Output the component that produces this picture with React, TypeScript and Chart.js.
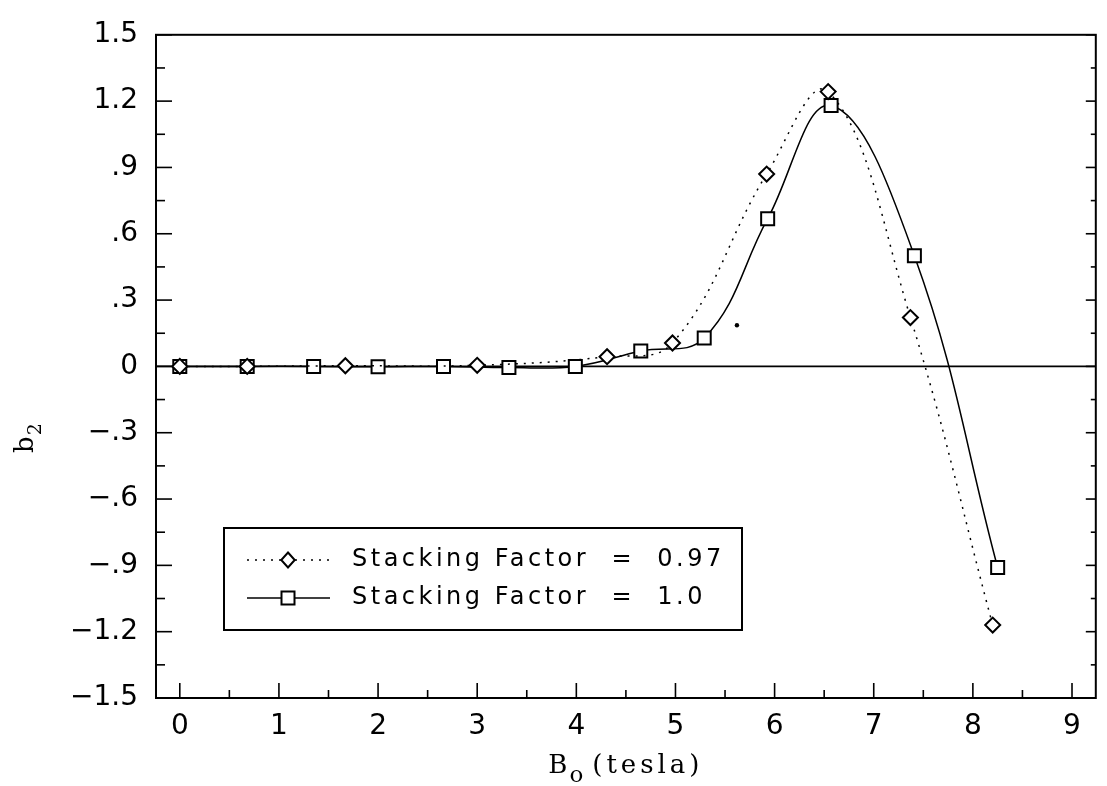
import React, { useEffect, useRef } from "react";
import { Chart, registerables } from "chart.js";

Chart.register(...registerables);

// ---- data ----
const sf097X = [0, 0.68, 1.67, 3.0, 4.31, 4.97, 5.92, 6.54, 7.37, 8.2];
const sf097Y = [0, 0, 0.003, 0.005, 0.044, 0.106, 0.87, 1.243, 0.221, -1.17];

const sf100X = [0, 0.68, 1.35, 2.0, 2.66, 3.32, 3.99, 4.65, 5.29, 5.93, 6.57, 7.41, 8.25];
const sf100Y = [0, 0, 0, -0.002, 0, -0.005, 0, 0.07, 0.128, 0.668, 1.18, 0.5, -0.91];

const speckX = [5.62];
const speckY = [0.186];

const xTickValues = [0, 1, 2, 3, 4, 5, 6, 7, 8, 9];
const xTickLabels = ["0", "1", "2", "3", "4", "5", "6", "7", "8", "9"];
const xMinorValues = [0.5, 1.5, 2.5, 3.5, 4.5, 5.5, 6.5, 7.5, 8.5];

const yTickValues = [1.5, 1.2, 0.9, 0.6, 0.3, 0, -0.3, -0.6, -0.9, -1.2, -1.5];
const yTickLabels = ["1.5", "1.2", ".9", ".6", ".3", "0", "\u2212.3", "\u2212.6", "\u2212.9", "\u22121.2", "\u22121.5"];
const yMinorValues = [1.35, 1.05, 0.75, 0.45, 0.15, -0.15, -0.45, -0.75, -1.05, -1.35];

const legendLabels = ["Stacking Factor  =  0.97", "Stacking Factor  =  1.0"];
const xTitleParts = ["B", "o", "(tesla)"];
const yTitleParts = ["b", "2"];

const X_MIN = -0.24;
const X_MAX = 9.24;
const Y_MIN = -1.5;
const Y_MAX = 1.5;

function line(ctx: CanvasRenderingContext2D, x1: number, y1: number, x2: number, y2: number) {
  ctx.beginPath();
  ctx.moveTo(x1, y1);
  ctx.lineTo(x2, y2);
  ctx.stroke();
}

function drawDiamond(ctx: CanvasRenderingContext2D, cx: number, cy: number, r: number) {
  ctx.beginPath();
  ctx.moveTo(cx, cy - r);
  ctx.lineTo(cx + r * 0.9, cy);
  ctx.lineTo(cx, cy + r);
  ctx.lineTo(cx - r * 0.9, cy);
  ctx.closePath();
  ctx.fillStyle = "#fff";
  ctx.fill();
  ctx.stroke();
}

function drawSquare(ctx: CanvasRenderingContext2D, cx: number, cy: number, s: number) {
  ctx.beginPath();
  ctx.rect(cx - s / 2, cy - s / 2, s, s);
  ctx.fillStyle = "#fff";
  ctx.fill();
  ctx.stroke();
}

const framePlugin = {
  id: "framePlugin",
  beforeDatasetsDraw(chart: any) {
    const { ctx, chartArea: a, scales } = chart;
    const x = scales.x;
    const y = scales.y;
    ctx.save();
    ctx.strokeStyle = "#000";
    ctx.lineWidth = 1.6;
    const y0 = y.getPixelForValue(0);
    line(ctx, a.left, y0, a.right, y0);
    xTickValues.forEach((v) => {
      const px = x.getPixelForValue(v);
      line(ctx, px, a.bottom, px, a.bottom - 15);
    });
    xMinorValues.forEach((v) => {
      const px = x.getPixelForValue(v);
      line(ctx, px, a.bottom, px, a.bottom - 8);
    });
    yTickValues.forEach((v) => {
      const py = y.getPixelForValue(v);
      line(ctx, a.left, py, a.left + 16, py);
      line(ctx, a.right, py, a.right - 10, py);
    });
    yMinorValues.forEach((v) => {
      const py = y.getPixelForValue(v);
      line(ctx, a.left, py, a.left + 9, py);
      line(ctx, a.right, py, a.right - 5, py);
    });
    ctx.lineWidth = 2;
    ctx.strokeRect(a.left, a.top, a.right - a.left, a.bottom - a.top);
    ctx.restore();
  },
  afterDraw(chart: any) {
    const { ctx, chartArea: a } = chart;
    ctx.save();
    ctx.fillStyle = "#000";
    ctx.strokeStyle = "#000";

    // ---- legend ----
    const bx = 224, by = 528, bw = 518, bh = 102;
    ctx.fillStyle = "#fff";
    ctx.fillRect(bx, by, bw, bh);
    ctx.lineWidth = 2;
    ctx.strokeRect(bx, by, bw, bh);
    const rows = [560, 598];
    const ds = chart.data.datasets;
    for (let i = 0; i < 2; i++) {
      const ry = rows[i];
      ctx.save();
      ctx.lineWidth = ds[i].borderWidth;
      ctx.setLineDash(ds[i].borderDash || []);
      ctx.strokeStyle = "#000";
      line(ctx, 247, ry, 330, ry);
      ctx.restore();
      ctx.lineWidth = 2;
      ctx.strokeStyle = "#000";
      if (i === 0) drawDiamond(ctx, 288, ry, 7.5);
      else drawSquare(ctx, 288, ry, 13);
      ctx.fillStyle = "#000";
      ctx.font = '24px "DejaVu Sans"';
      (ctx as any).letterSpacing = "3.5px";
      ctx.textAlign = "left";
      ctx.textBaseline = "middle";
      ctx.fillText(legendLabels[i], 352, ry);
      (ctx as any).letterSpacing = "0px";
    }

    // ---- x title ----
    ctx.textBaseline = "alphabetic";
    ctx.textAlign = "left";
    ctx.fillStyle = "#000";
    const bigFont = '26px "DejaVu Serif"';
    const subFont = '23px "DejaVu Serif"';
    ctx.font = bigFont;
    const wB = ctx.measureText(xTitleParts[0]).width;
    (ctx as any).letterSpacing = "4px";
    const wT = ctx.measureText(xTitleParts[2]).width;
    (ctx as any).letterSpacing = "0px";
    ctx.font = subFont;
    const wO = ctx.measureText(xTitleParts[1]).width;
    const gap = 9;
    const total = wB + 2 + wO + gap + wT;
    let sx = (a.left + a.right) / 2 - total / 2;
    ctx.font = bigFont;
    ctx.fillText(xTitleParts[0], sx, 773);
    sx += wB + 2;
    ctx.font = subFont;
    ctx.fillText(xTitleParts[1], sx, 782);
    sx += wO + gap;
    ctx.font = bigFont;
    (ctx as any).letterSpacing = "4px";
    ctx.fillText(xTitleParts[2], sx, 773);
    (ctx as any).letterSpacing = "0px";

    // ---- y title ----
    ctx.save();
    ctx.translate(33, 453);
    ctx.rotate(-Math.PI / 2);
    ctx.font = '26px "DejaVu Serif"';
    ctx.fillText(yTitleParts[0], 0, 0);
    const wb = ctx.measureText(yTitleParts[0]).width;
    ctx.font = '19px "DejaVu Serif"';
    ctx.fillText(yTitleParts[1], wb + 1, 8);
    ctx.restore();

    ctx.restore();
  },
};

export default function App() {
  const ref = useRef<HTMLCanvasElement | null>(null);

  useEffect(() => {
    document.body.style.margin = "0";
    const canvas = ref.current;
    if (!canvas) return;
    const chart = new Chart(canvas, {
      type: "scatter",
      data: {
        datasets: [
          {
            label: legendLabels[0],
            data: sf097X.map((x, i) => ({ x, y: sf097Y[i] })),
            showLine: true,
            borderColor: "#000",
            borderWidth: 1.5,
            borderDash: [2, 6],
            tension: 0.4,
            pointStyle: "rectRot",
            pointRadius: 7.5,
            pointBorderWidth: 2,
            pointBackgroundColor: "#fff",
            pointBorderColor: "#000",
          } as any,
          {
            label: legendLabels[1],
            data: sf100X.map((x, i) => ({ x, y: sf100Y[i] })),
            showLine: true,
            borderColor: "#000",
            borderWidth: 1.5,
            tension: 0.4,
            pointStyle: "rect",
            pointRadius: 9.2,
            pointBorderWidth: 2,
            pointBackgroundColor: "#fff",
            pointBorderColor: "#000",
          } as any,
          {
            label: "speck",
            data: speckX.map((x, i) => ({ x, y: speckY[i] })),
            showLine: false,
            pointRadius: 2.2,
            pointBorderWidth: 0,
            pointBackgroundColor: "#000",
            pointBorderColor: "#000",
          } as any,
        ],
      },
      options: {
        responsive: false,
        animation: false,
        devicePixelRatio: 1,
        layout: { padding: { top: 20, right: 1, left: 0, bottom: 0 } },
        plugins: {
          legend: { display: false },
          tooltip: { enabled: false },
        },
        scales: {
          x: {
            type: "linear",
            min: X_MIN,
            max: X_MAX,
            grid: { display: false, drawTicks: false },
            border: { display: false },
            afterBuildTicks: (s: any) => {
              s.ticks = xTickValues.map((v) => ({ value: v }));
            },
            afterFit: (s: any) => {
              s.height = 88;
            },
            ticks: {
              autoSkip: false,
              maxRotation: 0,
              padding: 12,
              color: "#000",
              font: { family: "DejaVu Sans", size: 28 },
              callback: (v: any) => {
                const i = xTickValues.indexOf(Number(v));
                return i >= 0 ? xTickLabels[i] : "";
              },
            },
          },
          y: {
            type: "linear",
            min: Y_MIN,
            max: Y_MAX,
            grid: { display: false, drawTicks: false },
            border: { display: false },
            afterBuildTicks: (s: any) => {
              s.ticks = yTickValues.map((v) => ({ value: v }));
            },
            afterFit: (s: any) => {
              s.width = 156;
            },
            ticks: {
              autoSkip: false,
              padding: 18,
              color: "#000",
              font: { family: "DejaVu Sans", size: 28 },
              callback: (v: any) => {
                const n = Number(v);
                const i = yTickValues.findIndex((t) => Math.abs(t - n) < 1e-9);
                return i >= 0 ? yTickLabels[i] : "";
              },
            },
          },
        },
      },
      plugins: [framePlugin],
    });
    return () => chart.destroy();
  }, []);

  return (
    <div style={{ position: "absolute", left: 0, top: 0, width: 1107, height: 786, background: "#fff" }}>
      <canvas ref={ref} width={1107} height={786} />
    </div>
  );
}
